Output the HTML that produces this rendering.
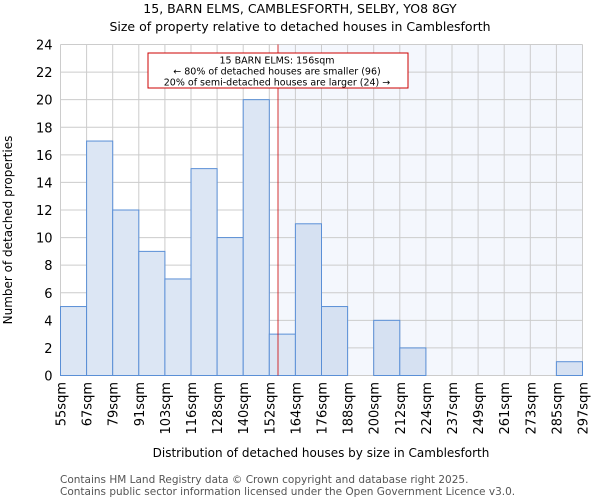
<!DOCTYPE html>
<html><head><meta charset="utf-8"><style>
body{margin:0;background:#fff;font-family:"DejaVu Sans","Liberation Sans",sans-serif}
svg text{font-family:"DejaVu Sans","Liberation Sans",sans-serif}
</style></head><body>
<svg id="c" width="600" height="500">
<text x="300" y="13" text-anchor="middle" font-size="12.5">15, BARN ELMS, CAMBLESFORTH, SELBY, YO8 8GY</text>
<text x="300" y="31" text-anchor="middle" font-size="12.5">Size of property relative to detached houses in Camblesforth</text>
<text transform="translate(12,230) rotate(-90)" text-anchor="middle" font-size="12">Number of detached properties</text>
<text x="321" y="457" text-anchor="middle" font-size="12">Distribution of detached houses by size in Camblesforth</text>
<text x="60" y="483" font-size="10.5" fill="#555">Contains HM Land Registry data © Crown copyright and database right 2025.</text>
<text x="60" y="495" font-size="10.5" fill="#555">Contains public sector information licensed under the Open Government Licence v3.0.</text>
<g id="plot"></g>
</svg>
<script>
const labels=["55sqm","67sqm","79sqm","91sqm","103sqm","116sqm","128sqm","140sqm","152sqm","164sqm","176sqm","188sqm","200sqm","212sqm","224sqm","237sqm","249sqm","261sqm","273sqm","285sqm","297sqm"];
const counts=[5,17,12,9,7,15,10,20,3,11,5,0,4,2,0,0,0,0,0,1];
const yTicks=[0,2,4,6,8,10,12,14,16,18,20,22,24];
const markerBin=8+4/12;
const L=60.5,R=582.5,T=44.5,B=375.5,yMax=24;
const bw=(R-L)/counts.length;
const xs=i=>L+i*bw, ys=v=>B-(v/yMax)*(B-T);
const g=document.getElementById('plot');const NS="http://www.w3.org/2000/svg";
function mk(t,a){const e=document.createElementNS(NS,t);for(const k in a)e.setAttribute(k,a[k]);g.appendChild(e);return e;}
const mx=xs(markerBin);
let e=mk('rect',{x:mx,y:T,width:R-mx,height:B-T,fill:'#f4f7fd'});


yTicks.forEach(v=>{const l=mk('line',{x1:L,x2:R,y1:ys(v),y2:ys(v),stroke:'#cccccc'});


const t=mk('text',{x:L-8,y:ys(v)+5,'text-anchor':'end','font-size':'13'});t.textContent=v;

});
labels.forEach((s,i)=>{const x=xs(i);const l=mk('line',{x1:x,x2:x,y1:T,y2:B,stroke:'#cccccc'});


const t=mk('text',{transform:`translate(${x+5},382) rotate(-90)`,'text-anchor':'end','font-size':'13'});t.textContent=s;

});
counts.forEach((v,i)=>{if(v<=0)return;const r=mk('rect',{x:xs(i),y:ys(v),width:bw,height:B-ys(v),fill:i>=9?'#d6e1f2':'#dce6f4',stroke:'#5a8fd6','stroke-width':1});

});
e=mk('line',{x1:mx,x2:mx,y1:T,y2:B,stroke:'#cc0000','stroke-width':0.8});


e=mk('rect',{x:148,y:53,width:260,height:35,fill:'#fff',stroke:'#cc0000','stroke-width':1});


["15 BARN ELMS: 156sqm","← 80% of detached houses are smaller (96)","20% of semi-detached houses are larger (24) →"].forEach((s,i)=>{const t=mk('text',{x:277,y:63.5+i*11,'text-anchor':'middle','font-size':'9.5'});t.textContent=s;

});
</script>
</body></html>
